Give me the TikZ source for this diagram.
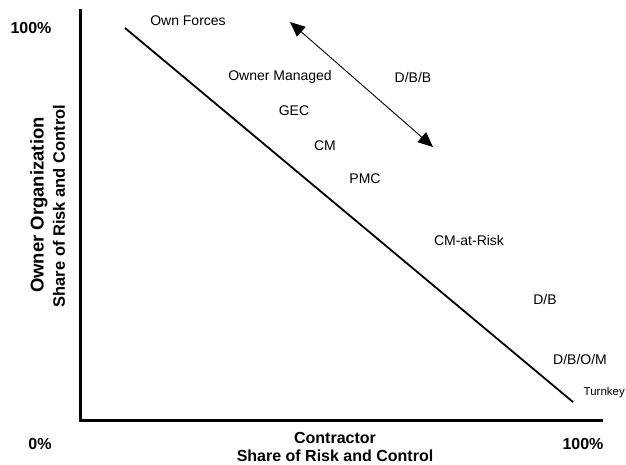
\documentclass[tikz,border=0pt]{standalone}
\usepackage{fontspec}
\setmainfont{Liberation Sans}
\usetikzlibrary{arrows.meta}
\begin{document}
\begin{tikzpicture}[x=1pt,y=-1pt,
  lbl/.style={inner sep=0pt,font=\fontsize{14}{16}\selectfont},
  small/.style={inner sep=0pt,font=\fontsize{11.5}{14}\selectfont},
  bold/.style={inner sep=0pt,font=\fontsize{16}{18}\selectfont\bfseries},
  axis/.style={line width=3pt},
  diag/.style={line width=1.8pt},
  dbl/.style={line width=0.9pt,{Triangle[length=15pt,width=13pt]}-{Triangle[length=15pt,width=13pt]}}]
\useasboundingbox (0,0) rectangle (626,465);
\clip (0,0) rectangle (626,465);
% axes
\coordinate (top) at (80,11);
\coordinate (origin) at (80,420);
\coordinate (right) at (601,420);
\draw[axis,line cap=rect] (top) -- (origin) -- (right);
% diagonal
\coordinate (d1) at (125,28);
\coordinate (d2) at (573,402);
\draw[diag] (d1) -- (d2);
% double arrow
\coordinate (a1) at (290,22);
\coordinate (a2) at (433,147);
\draw[dbl] (a1) -- (a2);
% labels
\node[bold] (ytop) at (31,28) {100\%};
\node[bold] (xzero) at (40,444) {0\%};
\node[bold] (xhundred) at (583,444) {100\%};
\node[bold,align=center] (xlab) at (335,447) {Contractor\\Share of Risk and Control};
\node[inner sep=0pt,font=\fontsize{18.5}{20}\selectfont\bfseries,rotate=90] (ylab1) at (39,205) {Owner Organization};
\node[inner sep=0pt,font=\fontsize{16.5}{18}\selectfont\bfseries,rotate=90] (ylab2) at (59,206) {Share of Risk and Control};
\node[lbl] (own) at (188,21) {Own Forces};
\node[lbl] (om) at (280,77) {Owner Managed};
\node[lbl] (dbb) at (413,77) {D/B/B};
\node[lbl] (gec) at (294,111) {GEC};
\node[lbl] (cm) at (325,146) {CM};
\node[lbl] (pmc) at (365,179) {PMC};
\node[lbl] (cmr) at (469,240) {CM-at-Risk};
\node[lbl] (db) at (545,299) {D/B};
\node[lbl] (dbom) at (580,359) {D/B/O/M};
\node[small,anchor=west] (tk) at (583.5,393) {Turnkey};
\end{tikzpicture}
\end{document}
